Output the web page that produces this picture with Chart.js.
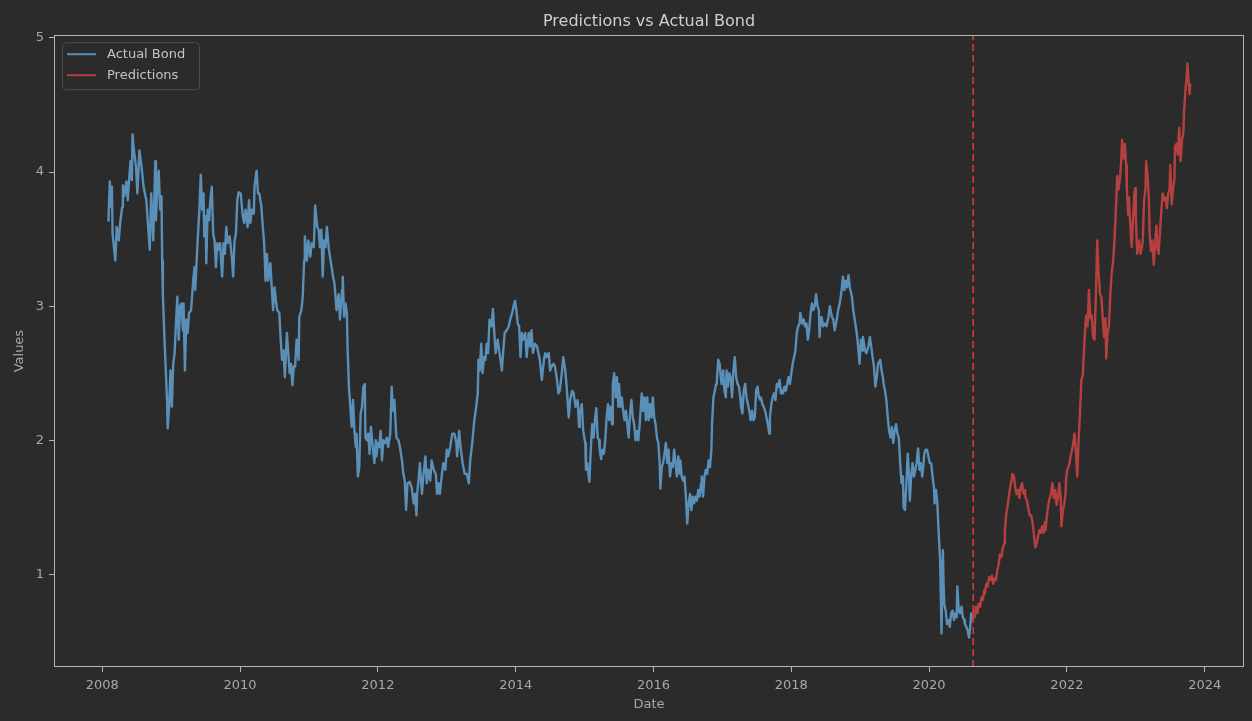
<!DOCTYPE html>
<html>
<head>
<meta charset="utf-8">
<script src="https://cdn.jsdelivr.net/npm/chart.js@4.4.1/dist/chart.umd.min.js"></script>
<style>
  html, body { margin: 0; padding: 0; background: #2b2b2b; }
  #wrap { width: 1252px; height: 721px; }
</style>
</head>
<body>
<div id="wrap"><canvas id="bondChart" width="1252" height="721"></canvas></div>
<script>
// Actual bond series (decimal year / value)
const actualDates = [
  2008.09, 2008.11, 2008.13, 2008.14, 2008.15, 2008.19, 2008.21, 2008.24, 2008.26, 2008.29,
  2008.30, 2008.32, 2008.35, 2008.37, 2008.39, 2008.41, 2008.43, 2008.44, 2008.46, 2008.49,
  2008.51, 2008.54, 2008.57, 2008.60, 2008.64, 2008.66, 2008.69, 2008.71, 2008.73, 2008.74,
  2008.77, 2008.78, 2008.80, 2008.82, 2008.84, 2008.86, 2008.87, 2008.88, 2008.90, 2008.92,
  2008.94, 2008.95, 2008.97, 2008.99, 2009.01, 2009.03, 2009.05, 2009.07, 2009.09, 2009.11,
  2009.13, 2009.15, 2009.17, 2009.18, 2009.20, 2009.22, 2009.24, 2009.26, 2009.29, 2009.32,
  2009.34, 2009.35, 2009.37, 2009.39, 2009.41, 2009.43, 2009.45, 2009.47, 2009.48, 2009.50,
  2009.51, 2009.53, 2009.55, 2009.57, 2009.59, 2009.61, 2009.63, 2009.65, 2009.67, 2009.69,
  2009.71, 2009.74, 2009.76, 2009.78, 2009.80, 2009.82, 2009.85, 2009.88, 2009.90, 2009.92,
  2009.94, 2009.96, 2009.98, 2010.01, 2010.04, 2010.06, 2010.08, 2010.11, 2010.13, 2010.15,
  2010.17, 2010.20, 2010.21, 2010.24, 2010.26, 2010.28, 2010.31, 2010.33, 2010.35, 2010.37,
  2010.39, 2010.41, 2010.44, 2010.46, 2010.48, 2010.50, 2010.52, 2010.54, 2010.57, 2010.59,
  2010.61, 2010.63, 2010.65, 2010.68, 2010.70, 2010.72, 2010.74, 2010.76, 2010.78, 2010.80,
  2010.82, 2010.85, 2010.86, 2010.89, 2010.91, 2010.93, 2010.94, 2010.97, 2010.99, 2011.02,
  2011.04, 2011.07, 2011.09, 2011.12, 2011.14, 2011.16, 2011.18, 2011.20, 2011.22, 2011.24,
  2011.26, 2011.29, 2011.32, 2011.35, 2011.37, 2011.40, 2011.43, 2011.45,
  2011.48, 2011.49, 2011.51, 2011.53, 2011.55, 2011.56, 2011.58, 2011.60, 2011.62, 2011.64,
  2011.66, 2011.68, 2011.69, 2011.71, 2011.73, 2011.75, 2011.77, 2011.79, 2011.81, 2011.82,
  2011.84, 2011.86, 2011.88, 2011.90, 2011.92, 2011.95, 2011.97, 2011.98, 2012.00, 2012.02,
  2012.04, 2012.06, 2012.08, 2012.11, 2012.13, 2012.15, 2012.18, 2012.20, 2012.22, 2012.24,
  2012.26, 2012.27, 2012.30, 2012.32, 2012.35, 2012.37, 2012.39, 2012.41, 2012.43, 2012.46,
  2012.49, 2012.52, 2012.54, 2012.56, 2012.57, 2012.59, 2012.61, 2012.64, 2012.66, 2012.69,
  2012.71, 2012.73, 2012.76, 2012.78, 2012.81, 2012.84, 2012.86, 2012.88, 2012.90, 2012.93,
  2012.95, 2012.98, 2013.00, 2013.02, 2013.05, 2013.08, 2013.11, 2013.14, 2013.15, 2013.18,
  2013.20, 2013.23, 2013.26, 2013.29, 2013.32, 2013.34, 2013.37, 2013.40, 2013.42, 2013.45,
  2013.46, 2013.48, 2013.50, 2013.52, 2013.54, 2013.56, 2013.58, 2013.60, 2013.62, 2013.65,
  2013.67, 2013.69, 2013.71, 2013.74, 2013.76, 2013.78, 2013.80, 2013.82, 2013.84, 2013.87,
  2013.90, 2013.92, 2013.95, 2013.97, 2013.99, 2014.01, 2014.03, 2014.05, 2014.07, 2014.09,
  2014.11, 2014.14, 2014.16, 2014.19, 2014.21, 2014.23, 2014.25, 2014.28, 2014.31, 2014.33,
  2014.35, 2014.38, 2014.41, 2014.43, 2014.45, 2014.48, 2014.50, 2014.52, 2014.55, 2014.57,
  2014.60, 2014.62, 2014.64, 2014.67, 2014.69, 2014.72, 2014.74, 2014.77, 2014.79, 2014.82,
  2014.84, 2014.87, 2014.90, 2014.92, 2014.93,
  2014.96, 2014.98, 2015.01, 2015.02, 2015.04, 2015.06, 2015.07, 2015.09, 2015.11, 2015.13,
  2015.15, 2015.17, 2015.19, 2015.21, 2015.22, 2015.24, 2015.26, 2015.28, 2015.30, 2015.32,
  2015.34, 2015.36, 2015.38, 2015.40, 2015.41, 2015.43, 2015.45, 2015.47, 2015.49, 2015.50,
  2015.52, 2015.54, 2015.56, 2015.58, 2015.60, 2015.62, 2015.64, 2015.66, 2015.68, 2015.70,
  2015.72, 2015.74, 2015.76, 2015.78, 2015.80, 2015.81, 2015.83, 2015.85, 2015.87, 2015.89,
  2015.91, 2015.93, 2015.95, 2015.97, 2015.99, 2016.01, 2016.03, 2016.05, 2016.07, 2016.09,
  2016.10, 2016.12, 2016.14, 2016.16, 2016.18, 2016.20, 2016.22, 2016.24, 2016.26, 2016.28,
  2016.30, 2016.32, 2016.34, 2016.36, 2016.38, 2016.39, 2016.41, 2016.43, 2016.45, 2016.47,
  2016.49, 2016.51, 2016.53, 2016.55, 2016.57, 2016.59, 2016.61, 2016.63, 2016.65, 2016.67,
  2016.69, 2016.70, 2016.72, 2016.74, 2016.76, 2016.78, 2016.80, 2016.82, 2016.84, 2016.85,
  2016.87, 2016.89, 2016.91, 2016.92, 2016.94, 2016.96, 2016.98, 2016.99, 2017.01, 2017.03,
  2017.05, 2017.06, 2017.08, 2017.10, 2017.12, 2017.14, 2017.16, 2017.18, 2017.20, 2017.22,
  2017.24, 2017.26, 2017.27, 2017.29, 2017.31, 2017.33, 2017.35, 2017.37, 2017.39, 2017.41,
  2017.43, 2017.45, 2017.47, 2017.49, 2017.51, 2017.53, 2017.55, 2017.56, 2017.58, 2017.60,
  2017.62, 2017.64, 2017.66, 2017.68, 2017.69, 2017.71, 2017.73, 2017.75, 2017.77, 2017.79,
  2017.81, 2017.83, 2017.85, 2017.87, 2017.88, 2017.90, 2017.92, 2017.94, 2017.96, 2017.98,
  2018.00, 2018.02, 2018.04, 2018.06, 2018.08, 2018.10, 2018.12, 2018.13, 2018.15, 2018.16,
  2018.18, 2018.20, 2018.22, 2018.24, 2018.26, 2018.28, 2018.30, 2018.32, 2018.34, 2018.36,
  2018.38, 2018.40, 2018.41, 2018.42,
  2018.44, 2018.46, 2018.49, 2018.51, 2018.54, 2018.56, 2018.59, 2018.61, 2018.63, 2018.66,
  2018.68, 2018.71, 2018.73, 2018.75, 2018.77, 2018.79, 2018.81, 2018.83, 2018.85, 2018.88,
  2018.90, 2018.92, 2018.95, 2018.97, 2018.99, 2019.01, 2019.03, 2019.04, 2019.07, 2019.09,
  2019.12, 2019.14, 2019.16, 2019.18, 2019.20, 2019.22, 2019.24, 2019.26, 2019.29, 2019.31,
  2019.33, 2019.34, 2019.36, 2019.38, 2019.40, 2019.42, 2019.44, 2019.46, 2019.48, 2019.50,
  2019.52, 2019.54, 2019.56, 2019.58, 2019.60, 2019.62, 2019.63, 2019.65, 2019.67, 2019.69,
  2019.71, 2019.72, 2019.74, 2019.76, 2019.78, 2019.80, 2019.82, 2019.84, 2019.86, 2019.88,
  2019.90, 2019.92, 2019.93, 2019.95, 2019.97, 2019.99, 2020.01, 2020.03, 2020.05, 2020.07,
  2020.08, 2020.10, 2020.12, 2020.14, 2020.16, 2020.17, 2020.18, 2020.20, 2020.21, 2020.22,
  2020.24, 2020.26, 2020.28, 2020.30, 2020.32, 2020.34, 2020.36, 2020.38, 2020.40, 2020.41,
  2020.43, 2020.45, 2020.47, 2020.49, 2020.51, 2020.52, 2020.54, 2020.56, 2020.58, 2020.60,
  2020.61, 2020.63
];
const actualValues = [
  3.63, 3.93, 3.74, 3.89, 3.54, 3.34, 3.59, 3.49, 3.62, 3.74,
  3.90, 3.82, 3.93, 3.79, 3.94, 4.08, 3.94, 4.28, 4.16, 4.04,
  3.84, 4.16, 4.04, 3.89, 3.79, 3.64, 3.42, 3.84, 3.62, 3.49,
  4.08, 3.64, 3.89, 4.01, 3.72, 3.82, 3.34, 3.09, 2.80, 2.55,
  2.30, 2.09, 2.25, 2.52, 2.25, 2.57, 2.65, 2.87, 3.07, 2.75,
  3.00, 3.02, 2.82, 3.02, 2.52, 2.90, 2.80, 2.95, 2.97, 3.19,
  3.29, 3.12, 3.34, 3.54, 3.72, 3.98, 3.72, 3.84, 3.52, 3.67,
  3.32, 3.72, 3.64, 3.79, 3.89, 3.54, 3.49, 3.29, 3.47, 3.42,
  3.47, 3.22, 3.47, 3.39, 3.59, 3.47, 3.52, 3.37, 3.22, 3.49,
  3.54, 3.79, 3.85, 3.84, 3.67, 3.62, 3.72, 3.59, 3.79, 3.62,
  3.72, 3.69, 3.89, 4.01, 3.84, 3.84, 3.74, 3.59, 3.47, 3.19,
  3.39, 3.19, 3.32, 3.14, 2.97, 3.14, 3.04, 2.97, 2.95, 2.75,
  2.60, 2.67, 2.47, 2.80, 2.65, 2.50, 2.57, 2.41, 2.55, 2.55,
  2.75, 2.60, 2.92, 2.97, 3.07, 3.34, 3.52, 3.34, 3.49, 3.37,
  3.47, 3.44, 3.75, 3.59, 3.57, 3.44, 3.57, 3.22, 3.49, 3.44,
  3.59, 3.42, 3.32, 3.22, 3.17, 2.97, 3.09, 2.90,
  3.12, 3.22, 2.92, 3.02, 2.95, 2.70, 2.40, 2.25, 2.10, 2.30,
  2.07, 1.95, 2.05, 1.73, 1.80, 2.20, 2.25, 2.40, 2.42, 2.02,
  2.00, 2.05, 1.90, 2.10, 1.98, 1.83, 2.00, 1.88, 1.98, 1.95,
  2.07, 1.85, 2.00, 1.98, 2.02, 1.95, 2.05, 2.40, 2.22, 2.30,
  2.10, 2.02, 2.00, 1.95, 1.85, 1.75, 1.70, 1.48, 1.68, 1.69,
  1.65, 1.53, 1.60, 1.44, 1.60, 1.70, 1.83, 1.60, 1.73, 1.88,
  1.68, 1.78, 1.70, 1.85, 1.78, 1.75, 1.60, 1.68, 1.60, 1.75,
  1.83, 1.78, 1.93, 1.88, 1.95, 2.05, 2.05, 1.98, 1.88, 2.07,
  1.95, 1.83, 1.75, 1.75, 1.68, 1.85, 1.98, 2.15, 2.22, 2.35,
  2.60, 2.52, 2.72, 2.50, 2.62, 2.60, 2.72, 2.65, 2.90, 2.85,
  2.98, 2.80, 2.65, 2.75, 2.67, 2.60, 2.52, 2.67, 2.80, 2.82,
  2.85, 2.90, 2.95, 3.00, 3.04, 2.97, 2.87, 2.85, 2.62, 2.80,
  2.75, 2.80, 2.62, 2.80, 2.70, 2.82, 2.65, 2.72, 2.70, 2.65,
  2.60, 2.45, 2.60, 2.65, 2.62, 2.65, 2.52, 2.55, 2.57, 2.55,
  2.45, 2.35, 2.37, 2.50, 2.62, 2.52, 2.40, 2.17, 2.30, 2.37,
  2.35, 2.25, 2.30, 2.10, 2.20,
  2.27, 2.07, 1.98, 1.78, 1.83, 1.73, 1.69, 1.93, 2.12, 2.02,
  2.15, 2.24, 2.02, 2.00, 1.93, 1.86, 1.93, 1.90, 2.00, 2.17,
  2.27, 2.15, 2.25, 2.12, 2.42, 2.50, 2.32, 2.47, 2.25, 2.42,
  2.25, 2.32, 2.22, 2.15, 2.22, 2.12, 2.02, 2.20, 2.30, 2.17,
  2.12, 2.00, 2.07, 2.00, 2.12, 2.20, 2.35, 2.22, 2.32, 2.15,
  2.32, 2.15, 2.27, 2.17, 2.32, 2.17, 2.12, 2.02, 1.98, 1.83,
  1.64, 1.80, 1.83, 1.90, 1.98, 1.83, 1.93, 1.73, 1.83, 1.80,
  1.93, 1.83, 1.73, 1.88, 1.75, 1.85, 1.73, 1.70, 1.73, 1.58,
  1.38, 1.53, 1.60, 1.48, 1.58, 1.53, 1.58, 1.55, 1.63, 1.58,
  1.68, 1.73, 1.58, 1.73, 1.78, 1.75, 1.85, 1.80, 1.93, 2.12,
  2.32, 2.37, 2.42, 2.45, 2.60, 2.57, 2.45, 2.42, 2.52, 2.37,
  2.32, 2.52, 2.40, 2.50, 2.47, 2.32, 2.52, 2.62, 2.47, 2.42,
  2.40, 2.32, 2.25, 2.20, 2.37, 2.42, 2.32, 2.27, 2.22, 2.15,
  2.22, 2.15, 2.17, 2.37, 2.40, 2.32, 2.30, 2.32, 2.27, 2.25,
  2.22, 2.17, 2.12, 2.05, 2.17, 2.27, 2.32, 2.35, 2.30, 2.42,
  2.40, 2.45, 2.35, 2.37, 2.35, 2.40, 2.37, 2.42, 2.47, 2.42,
  2.50, 2.57, 2.62, 2.67, 2.80, 2.85, 2.87, 2.95, 2.90, 2.87,
  2.90, 2.85, 2.87, 2.75, 2.82, 2.95, 3.02, 2.97, 3.00, 3.09,
  3.00, 2.97, 2.77, 2.85,
  2.92, 2.85, 2.87, 2.85, 2.92, 3.00, 2.92, 2.90, 2.82, 2.90,
  2.97, 3.04, 3.12, 3.22, 3.12, 3.19, 3.14, 3.23, 3.14, 3.07,
  2.97, 2.90, 2.80, 2.70, 2.57, 2.75, 2.67, 2.77, 2.67, 2.65,
  2.70, 2.77, 2.70, 2.62, 2.55, 2.40, 2.47, 2.57, 2.60, 2.52,
  2.47, 2.42, 2.37, 2.30, 2.17, 2.07, 2.02, 2.10, 1.98, 2.07,
  2.12, 2.05, 2.02, 1.83, 1.68, 1.73, 1.50, 1.48, 1.68, 1.90,
  1.73, 1.55, 1.73, 1.83, 1.73, 1.78, 1.83, 1.94, 1.78, 1.83,
  1.73, 1.83, 1.90, 1.93, 1.93, 1.88, 1.83, 1.83, 1.73, 1.65,
  1.53, 1.63, 1.53, 1.30, 1.10, 0.83, 0.56, 1.18, 0.93, 0.78,
  0.73, 0.63, 0.66, 0.61, 0.71, 0.73, 0.66, 0.71, 0.68, 0.91,
  0.73, 0.71, 0.76, 0.68, 0.66, 0.63, 0.61, 0.58, 0.53, 0.63,
  0.71, 0.66
];

// Prediction series
const predDates = [
  2020.64, 2020.66, 2020.68, 2020.70, 2020.72, 2020.74, 2020.76, 2020.78, 2020.80, 2020.81,
  2020.83, 2020.85, 2020.87, 2020.89, 2020.91, 2020.93, 2020.95, 2020.97, 2020.99, 2021.01,
  2021.03, 2021.05, 2021.07, 2021.09, 2021.10, 2021.12, 2021.15, 2021.17, 2021.20, 2021.21,
  2021.23, 2021.25, 2021.27, 2021.29, 2021.31, 2021.33, 2021.35, 2021.37, 2021.39, 2021.40,
  2021.42, 2021.44, 2021.46, 2021.48, 2021.50, 2021.52, 2021.54, 2021.56, 2021.58, 2021.60,
  2021.62, 2021.64, 2021.66, 2021.68, 2021.69, 2021.71, 2021.73, 2021.75, 2021.77, 2021.79,
  2021.81, 2021.83, 2021.85, 2021.87, 2021.89, 2021.91, 2021.92, 2021.94, 2021.96, 2021.98,
  2021.99, 2022.01, 2022.03, 2022.05, 2022.07, 2022.09, 2022.11, 2022.13, 2022.15, 2022.17,
  2022.19, 2022.21, 2022.23, 2022.25, 2022.27, 2022.28, 2022.30, 2022.32, 2022.34, 2022.36,
  2022.38, 2022.40, 2022.42, 2022.44, 2022.46, 2022.48, 2022.50, 2022.52, 2022.54, 2022.56,
  2022.57, 2022.59, 2022.61, 2022.63, 2022.65, 2022.67, 2022.69, 2022.71, 2022.73, 2022.75,
  2022.77, 2022.79, 2022.80, 2022.82, 2022.84, 2022.86, 2022.87, 2022.89, 2022.90, 2022.92,
  2022.94, 2022.96, 2022.98, 2022.99, 2023.00, 2023.02, 2023.05, 2023.07, 2023.10, 2023.12,
  2023.14, 2023.15, 2023.17, 2023.19, 2023.20, 2023.22, 2023.24, 2023.26, 2023.28, 2023.30,
  2023.31, 2023.33, 2023.35, 2023.37, 2023.39, 2023.41, 2023.43, 2023.45, 2023.47, 2023.49,
  2023.50, 2023.52, 2023.54, 2023.56, 2023.57, 2023.59, 2023.61, 2023.63, 2023.65, 2023.67,
  2023.69, 2023.70, 2023.72, 2023.74, 2023.75, 2023.76, 2023.78, 2023.79
];
const predValues = [
  0.73, 0.68, 0.76, 0.71, 0.78, 0.76, 0.83, 0.81, 0.88, 0.86,
  0.93, 0.91, 0.98, 0.96, 0.99, 0.93, 0.97, 0.96, 1.03, 1.08,
  1.15, 1.13, 1.20, 1.23, 1.33, 1.45, 1.55, 1.63, 1.71, 1.75,
  1.73, 1.65, 1.60, 1.63, 1.57, 1.65, 1.68, 1.60, 1.63, 1.57,
  1.55, 1.49, 1.44, 1.44, 1.39, 1.31, 1.20, 1.23, 1.28, 1.33,
  1.31, 1.36, 1.31, 1.39, 1.33, 1.44, 1.52, 1.57, 1.60, 1.68,
  1.57, 1.63, 1.52, 1.57, 1.68, 1.57, 1.36, 1.47, 1.52, 1.60,
  1.73, 1.79, 1.81, 1.87, 1.92, 1.97, 2.05, 1.92, 1.73, 2.00,
  2.21, 2.45, 2.48, 2.69, 2.88, 2.93, 2.85, 3.12, 2.91, 2.93,
  2.77, 2.75, 3.07, 3.49, 3.25, 3.09, 3.07, 2.91, 2.77, 2.91,
  2.61, 2.80, 2.85, 3.09, 3.25, 3.33, 3.49, 3.71, 3.97, 3.87,
  3.95, 4.10, 4.24, 4.10, 4.21, 4.05, 3.87, 3.68, 3.81, 3.60,
  3.44, 3.65, 3.84, 3.88, 3.65, 3.39, 3.49, 3.39, 3.47, 3.79,
  3.87, 4.08, 3.97, 3.79, 3.55, 3.41, 3.49, 3.31, 3.47, 3.60,
  3.44, 3.39, 3.55, 3.71, 3.84, 3.79, 3.81, 3.73, 3.84, 3.87,
  4.05, 3.76, 3.87, 3.95, 4.19, 4.21, 4.13, 4.33, 4.08, 4.24,
  4.29, 4.45, 4.61, 4.72, 4.81, 4.72, 4.58, 4.66
];

const splitDate = 2020.64;          // start of the prediction window
const xTicks = [2008, 2010, 2012, 2014, 2016, 2018, 2020, 2022, 2024];
const yTicks = [1, 2, 3, 4, 5];
const xMin = 2007.30, xMax = 2024.57;
const yMin = 0.31, yMax = 5.02;

const BLUE = "#5a8fb8";
const RED = "#b6403f";
const FONT = "'DejaVu Sans', sans-serif";

const toPoints = (xs, ys) => xs.map((x, i) => ({ x, y: ys[i] }));

// matplotlib-like box round the axes plus a legend in the upper left corner
const framePlugin = {
  id: "frame",
  afterDatasetsDraw(chart) {
    const { ctx, chartArea: a } = chart;
    ctx.save();
    ctx.strokeStyle = "#b4b4b4";
    ctx.lineWidth = 1;
    ctx.strokeRect(Math.round(a.left) + 0.5, Math.round(a.top) + 0.5,
      Math.round(a.right - a.left) - 1, Math.round(a.bottom - a.top) - 1);

    // legend
    const bx = a.left + 8, by = a.top + 7, bw = 137, bh = 47;
    ctx.beginPath();
    ctx.roundRect(bx + 0.5, by + 0.5, bw, bh, 4);
    ctx.fillStyle = "rgba(43,43,43,0.85)";
    ctx.fill();
    ctx.strokeStyle = "#4d4d4d";
    ctx.stroke();

    const items = [
      { label: chart.data.datasets[0].label, color: BLUE },
      { label: chart.data.datasets[1].label, color: RED }
    ];
    ctx.font = "13px " + FONT;
    ctx.textBaseline = "middle";
    items.forEach((it, i) => {
      const y = by + 12 + i * 21;
      ctx.strokeStyle = it.color;
      ctx.lineWidth = 2;
      ctx.beginPath();
      ctx.moveTo(bx + 5, y);
      ctx.lineTo(bx + 34, y);
      ctx.stroke();
      ctx.fillStyle = "#c4c4c4";
      ctx.fillText(it.label, bx + 45, y + 0.5);
    });
    ctx.restore();
  }
};

const ctx = document.getElementById("bondChart").getContext("2d");

new Chart(ctx, {
  type: "line",
  data: {
    datasets: [
      {
        label: "Actual Bond",
        data: toPoints(actualDates, actualValues),
        borderColor: BLUE,
        borderWidth: 2.4,
        pointRadius: 0,
        borderJoinStyle: "round",
        order: 2
      },
      {
        label: "Predictions",
        data: toPoints(predDates, predValues),
        borderColor: RED,
        borderWidth: 2.4,
        pointRadius: 0,
        borderJoinStyle: "round",
        order: 1
      },
      {
        label: "split",
        data: [{ x: splitDate, y: yMin }, { x: splitDate, y: yMax }],
        borderColor: "#c8383a",
        borderWidth: 1.8,
        borderDash: [7, 4],
        pointRadius: 0,
        order: 0
      }
    ]
  },
  options: {
    responsive: false,
    animation: false,
    layout: { padding: { left: 0, right: 8, top: 0, bottom: 0 } },
    plugins: {
      legend: { display: false },
      tooltip: { enabled: false },
      title: {
        display: true,
        text: "Predictions vs Actual Bond",
        color: "#cfcfcf",
        fullSize: false,
        font: { family: FONT, size: 16, weight: "normal" },
        padding: { top: 12, bottom: 4 }
      }
    },
    scales: {
      x: {
        type: "linear",
        min: xMin,
        max: xMax,
        afterBuildTicks: axis => { axis.ticks = xTicks.map(v => ({ value: v })); },
        afterFit: axis => { axis.height = 54; },
        ticks: {
          color: "#a8a8a8",
          font: { family: FONT, size: 13 },
          padding: 6,
          maxRotation: 0,
          callback: v => String(v)
        },
        grid: { drawOnChartArea: false, drawTicks: true, tickLength: 5, tickColor: "#b4b4b4" },
        border: { display: false },
        title: {
          display: true,
          text: "Date",
          color: "#a8a8a8",
          font: { family: FONT, size: 13 },
          padding: { top: 0, bottom: 9 }
        }
      },
      y: {
        type: "linear",
        min: yMin,
        max: yMax,
        afterBuildTicks: axis => { axis.ticks = yTicks.map(v => ({ value: v })); },
        afterFit: axis => { axis.width = 54; },
        ticks: {
          color: "#a8a8a8",
          font: { family: FONT, size: 13 },
          padding: 5,
          callback: v => String(v)
        },
        grid: { drawOnChartArea: false, drawTicks: true, tickLength: 5, tickColor: "#b4b4b4" },
        border: { display: false },
        title: {
          display: true,
          text: "Values",
          color: "#a8a8a8",
          font: { family: FONT, size: 13 },
          padding: { top: 12, bottom: 0 }
        }
      }
    }
  },
  plugins: [framePlugin]
});
</script>
</body>
</html>
